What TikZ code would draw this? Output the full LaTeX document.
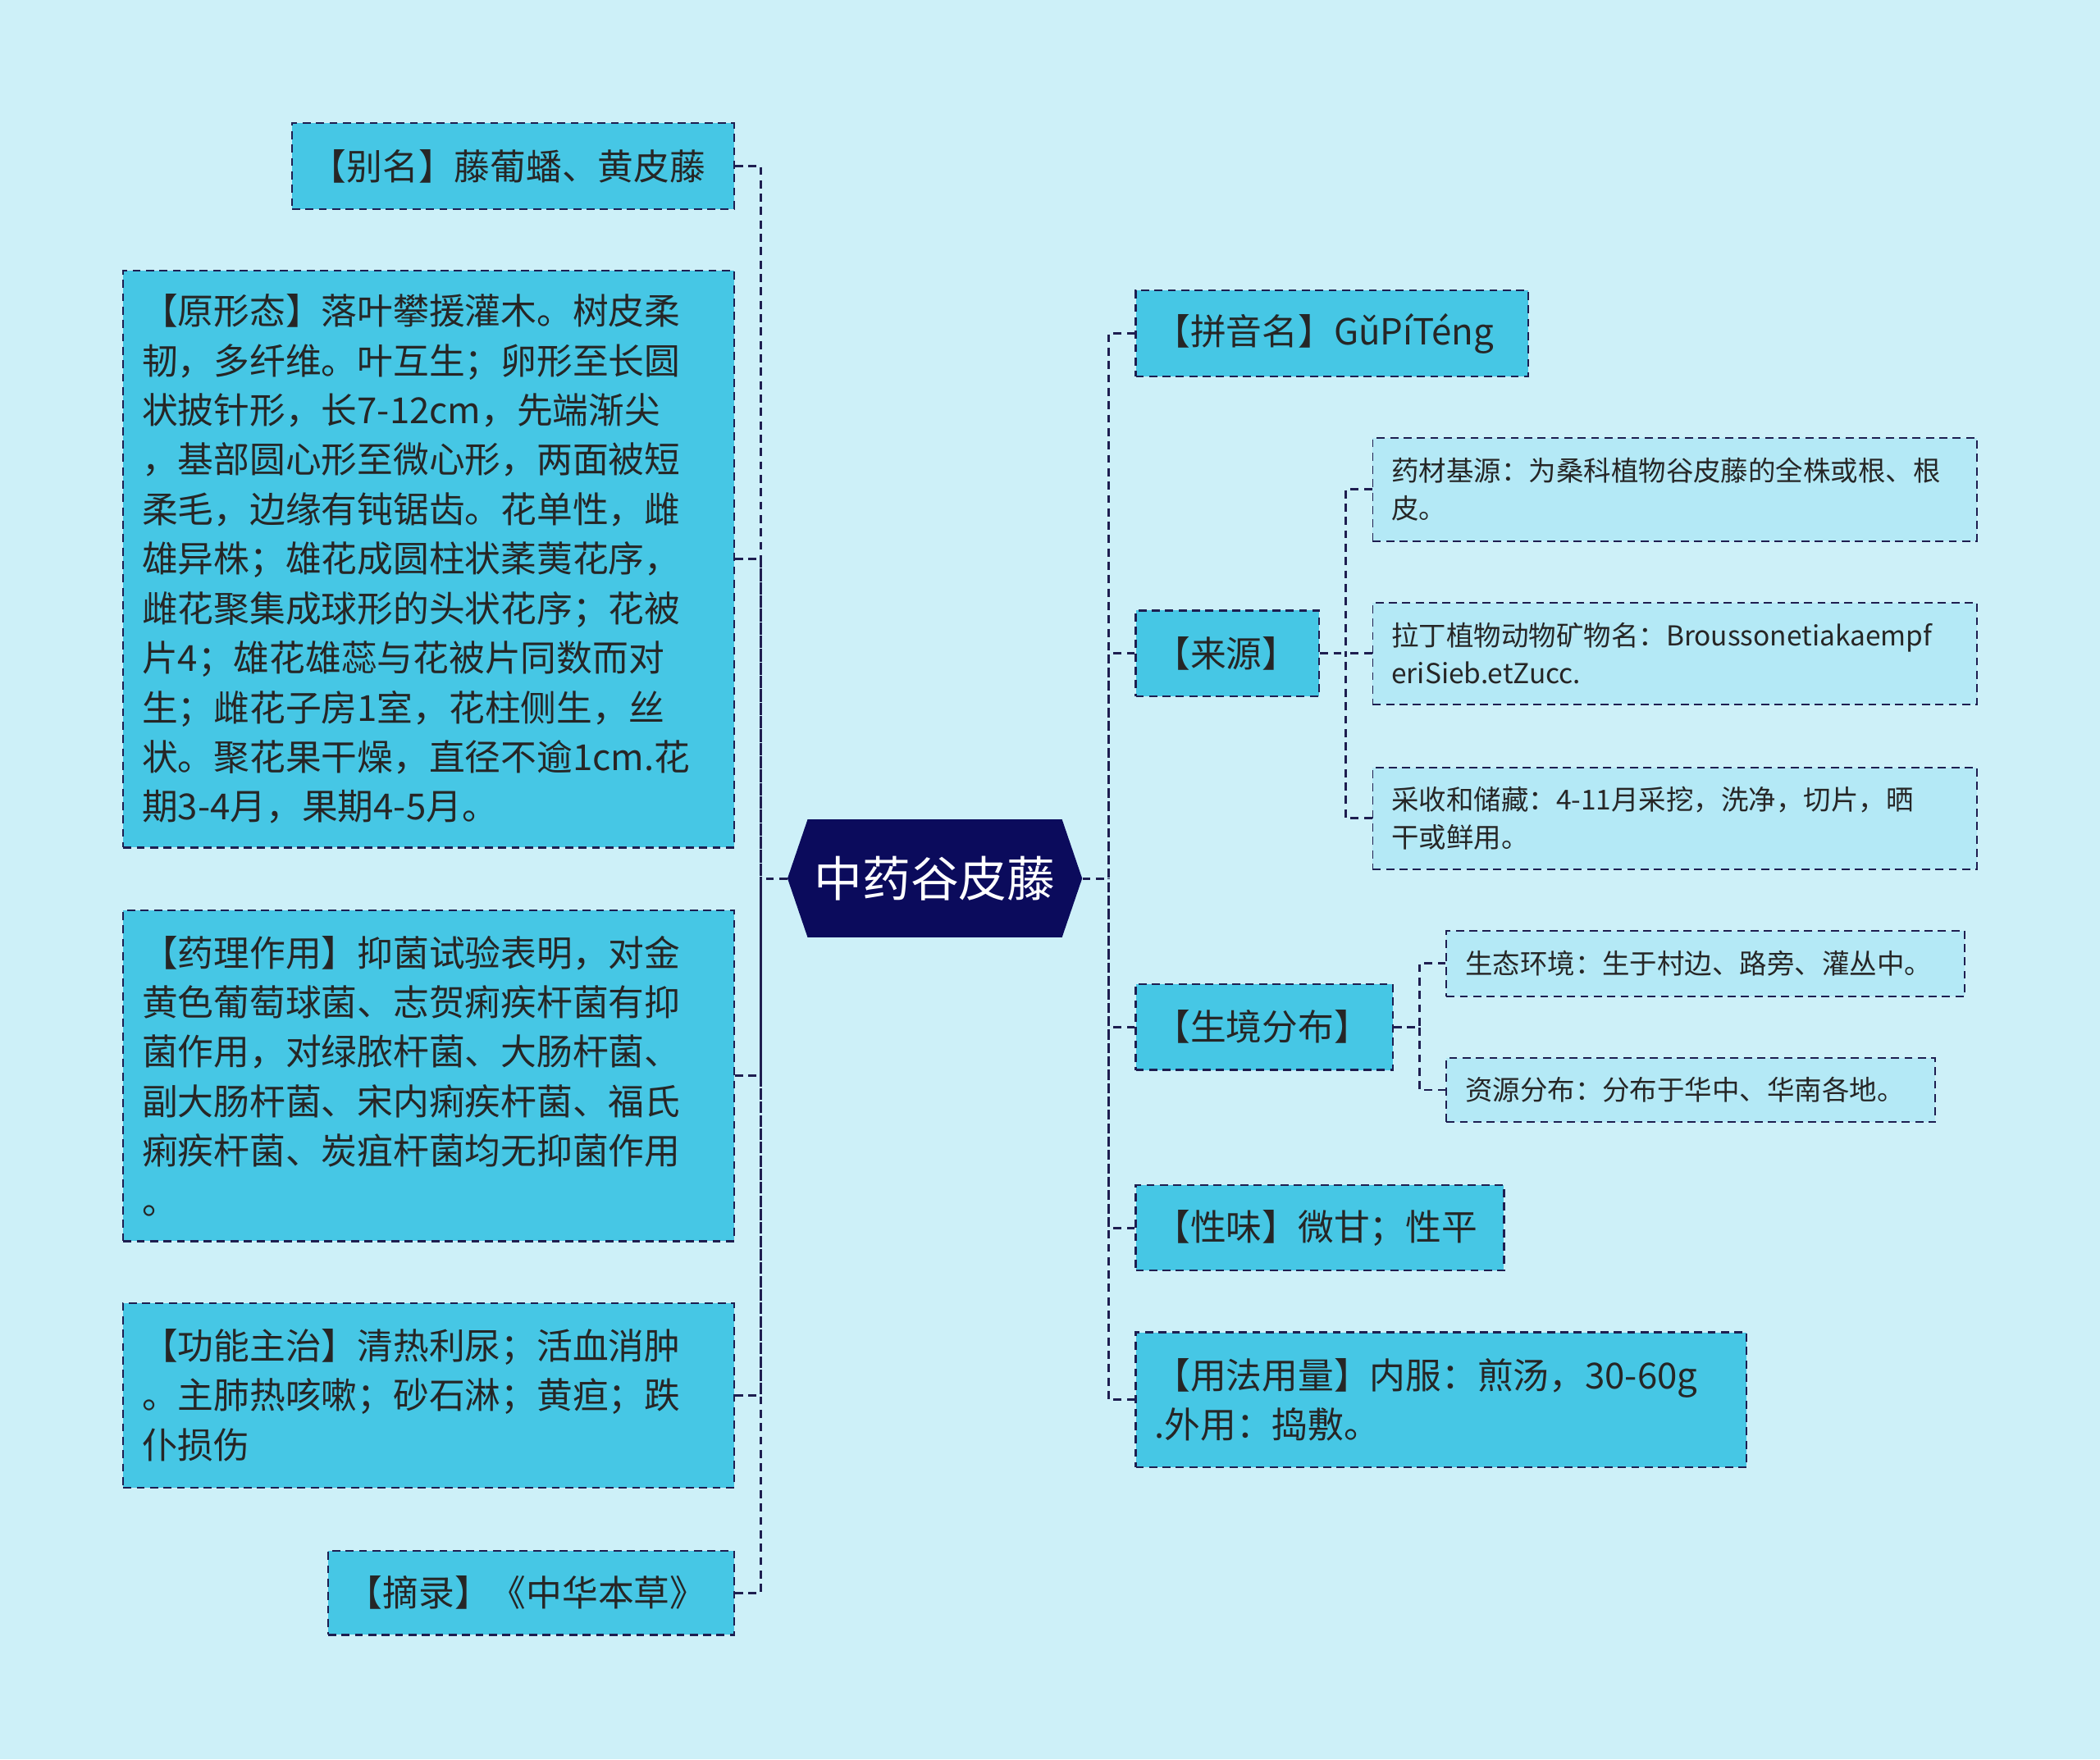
\documentclass[tikz,border=0pt]{standalone}
\usepackage{fontspec}
\setmainfont{Noto Sans CJK SC}
\begin{document}
\definecolor{bgc}{HTML}{CDF0F8}
\definecolor{mainf}{HTML}{46C7E5}
\definecolor{subf}{HTML}{B4E9F6}
\definecolor{edge}{HTML}{1E1E50}
\definecolor{navy}{HTML}{0B0B5C}
\tikzset{
 big/.style={draw=edge,dash pattern=on 6pt off 4pt,line width=1.3pt,fill=mainf,inner sep=0pt,align=left,font=\fontsize{26.8}{37}\selectfont,text=black!85},
 small/.style={draw=edge,dash pattern=on 6pt off 4pt,line width=1.2pt,fill=subf,inner sep=0pt,align=left,font=\fontsize{20.5}{28}\selectfont,text=black!85},
 conn/.style={draw=edge,dash pattern=on 6pt off 4pt,line width=1.8pt}
}
\newcommand{\bx}[7]{\pgfmathsetmacro\cxx{(#2+#4)/2}\pgfmathsetmacro\cyy{(#3+#5)/2}\pgfmathsetmacro\ww{#4-#2}\pgfmathsetmacro\hh{#5-#3}\pgfmathsetmacro\tw{#4-#2-28}\node[#6,minimum width=\ww pt,minimum height=\hh pt,text width=\tw pt] (#1) at (\cxx,\cyy) {#7};}
\begin{tikzpicture}[x=1pt,y=-1pt]
\fill[bgc] (0,0) rectangle (1568,1314);
\useasboundingbox (0,0) rectangle (1568,1314);
% center
\fill[navy] (588,656) -- (603,612) -- (793,612) -- (808,656) -- (793,700) -- (603,700) -- cycle;
\node[text=white,font=\fontsize{36}{40}\selectfont,minimum width=220pt,minimum height=88pt,inner sep=0pt] (ctr) at (698,656) {中药谷皮藤};
\coordinate (LT) at (568,656);
\coordinate (RT) at (828,656);
% left
\bx{bm}{218}{92}{548}{156}{big}{【别名】藤葡蟠、黄皮藤}
\bx{yx}{92}{202}{548}{633}{big}{【原形态】落叶攀援灌木。树皮柔\\韧，多纤维。叶互生；卵形至长圆\\状披针形，长7-12cm，先端渐尖\\，基部圆心形至微心形，两面被短\\柔毛，边缘有钝锯齿。花单性，雌\\雄异株；雄花成圆柱状葇荑花序，\\雌花聚集成球形的头状花序；花被\\片4；雄花雄蕊与花被片同数而对\\生；雌花子房1室，花柱侧生，丝\\状。聚花果干燥，直径不逾1cm.花\\期3-4月，果期4-5月。}
\bx{yl}{92}{680}{548}{927}{big}{【药理作用】抑菌试验表明，对金\\黄色葡萄球菌、志贺痢疾杆菌有抑\\菌作用，对绿脓杆菌、大肠杆菌、\\副大肠杆菌、宋内痢疾杆菌、福氏\\痢疾杆菌、炭疽杆菌均无抑菌作用\\。}
\bx{gn}{92}{973}{548}{1111}{big}{【功能主治】清热利尿；活血消肿\\。主肺热咳嗽；砂石淋；黄疸；跌\\仆损伤}
\bx{zl}{245}{1158}{548}{1221}{big}{【摘录】《中华本草》}
% right
\bx{py}{848}{217}{1141}{281}{big}{【拼音名】GǔPíTéng}
\bx{ly}{848}{456}{985}{520}{big}{【来源】}
\bx{la}{1025}{327}{1476}{404}{small}{药材基源：为桑科植物谷皮藤的全株或根、根\\皮。}
\bx{lb}{1025}{450}{1476}{526}{small}{拉丁植物动物矿物名：Broussonetiakaempf\\eriSieb.etZucc.}
\bx{lc}{1025}{573}{1476}{649}{small}{采收和储藏：4-11月采挖，洗净，切片，晒\\干或鲜用。}
\bx{sj}{848}{735}{1040}{799}{big}{【生境分布】}
\bx{sa}{1080}{695}{1467}{744}{small}{生态环境：生于村边、路旁、灌丛中。}
\bx{sb}{1080}{790}{1445}{838}{small}{资源分布：分布于华中、华南各地。}
\bx{xw}{848}{885}{1123}{949}{big}{【性味】微甘；性平}
\bx{yf}{848}{995}{1304}{1096}{big}{【用法用量】内服：煎汤，30-60g\\.外用：捣敷。}
% connectors
\draw[conn] (ctr.west) -- (LT);
\draw[conn] (ctr.east) -- (RT);
\foreach \n in {bm,yx,yl,gn,zl} \draw[conn] (\n.east) -| (LT);
\foreach \n in {py,ly,sj,xw,yf} \draw[conn] (\n.west) -| (RT);
\coordinate (LS) at (1005,488);
\draw[conn] (ly.east) -- (LS);
\foreach \n in {la,lb,lc} \draw[conn] (\n.west) -| (LS);
\coordinate (SS) at (1060,767);
\draw[conn] (sj.east) -- (SS);
\foreach \n in {sa,sb} \draw[conn] (\n.west) -| (SS);
\end{tikzpicture}
\end{document}
